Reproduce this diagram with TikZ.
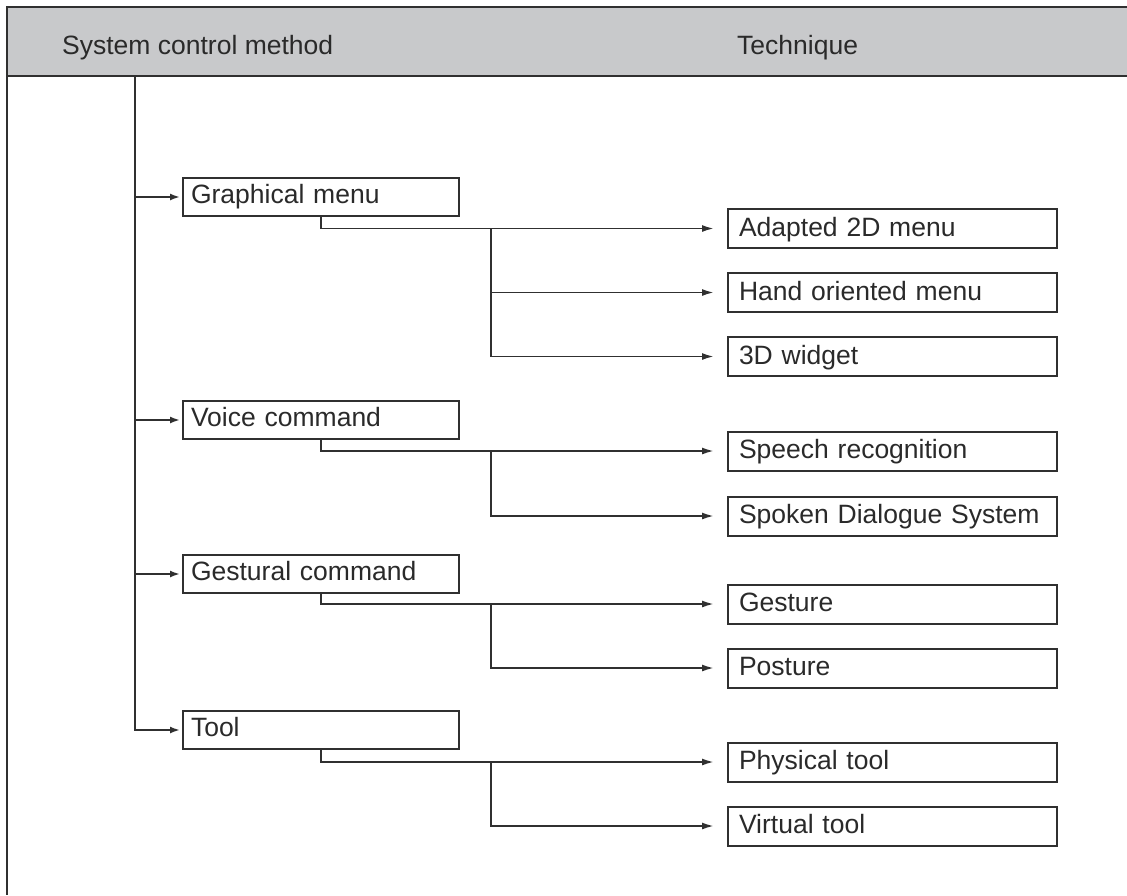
\documentclass[tikz,border=0pt]{standalone}
\usepackage{fontspec}
\setmainfont{Liberation Sans}
\usetikzlibrary{arrows.meta}
\definecolor{headgray}{HTML}{C8C9CB}
\definecolor{ink}{HTML}{303030}
\definecolor{txt}{HTML}{2A2A2A}
\begin{document}
\begin{tikzpicture}[x=1pt,y=-1pt,
  font=\fontsize{26.5}{30}\selectfont,
  every node/.style={text=txt},
  lbox/.style={draw=ink, line width=2pt, fill=white, minimum width=276pt, minimum height=38pt,
     text width=260pt, inner xsep=8pt, inner ysep=0pt, align=left, text height=19pt, text depth=6pt, anchor=west},
  rbox/.style={draw=ink, line width=2pt, fill=white, minimum width=329pt, minimum height=39pt,
     text width=307pt, inner xsep=11pt, inner ysep=0pt, align=left, text height=19pt, text depth=4pt, anchor=west},
  conn/.style={draw=ink, line width=1.9pt},
  larr/.style={conn, -{Latex[length=10pt,width=7pt]}, shorten >=2pt},
  rarr/.style={conn, -{Latex[length=12pt,width=7pt]}, shorten >=13pt}]
\useasboundingbox (0,0) rectangle (1127,895);
% header
\fill[headgray] (7,7) rectangle (1127,76);
\draw[ink, line width=2pt] (1127,7) -- (7,7) -- (7,895);
\draw[ink, line width=2pt] (7,76) -- (1127,76);
\node[anchor=base west, inner sep=0pt] (h1) at (62,54) {System control method};
\node[anchor=base west, inner sep=0pt] (h2) at (737,54) {Technique};
% level 1
\node[lbox] (gm) at (182,197) {Graphical menu};
\node[lbox] (vc) at (182,420) {Voice command};
\node[lbox] (gc) at (182,574) {Gestural command};
\node[lbox] (tl) at (182,730) {Tool};
% level 2
\node[rbox] (a2d) at (727,228.5) {Adapted 2D menu};
\node[rbox] (hom) at (727,292.5) {Hand oriented menu};
\node[rbox] (w3d) at (727,356.5) {3D widget};
\node[rbox] (sr)  at (727,451) {Speech recognition};
\node[rbox] (sds) at (727,516) {Spoken Dialogue System};
\node[rbox] (ges) at (727,604) {Gesture};
\node[rbox] (pos) at (727,668) {Posture};
\node[rbox] (pt)  at (727,762) {Physical tool};
\node[rbox] (vt)  at (727,826) {Virtual tool};
% trunk
\coordinate (trunk) at (135,76);
\draw[larr] (trunk) |- (gm.west);
\draw[larr] (trunk) |- (vc.west);
\draw[larr] (trunk) |- (gc.west);
\draw[larr] (trunk) |- (tl.west);
% branches
\draw[rarr] (gm.south) |- (a2d.west);
\coordinate (b1) at (491,228.5);
\draw[rarr] (b1) |- (hom.west);
\draw[rarr] (b1) |- (w3d.west);
\draw[rarr] (vc.south) |- (sr.west);
\coordinate (b2) at (491,451);
\draw[rarr] (b2) |- (sds.west);
\draw[rarr] (gc.south) |- (ges.west);
\coordinate (b3) at (491,604);
\draw[rarr] (b3) |- (pos.west);
\draw[rarr] (tl.south) |- (pt.west);
\coordinate (b4) at (491,762);
\draw[rarr] (b4) |- (vt.west);
\end{tikzpicture}
\end{document}
